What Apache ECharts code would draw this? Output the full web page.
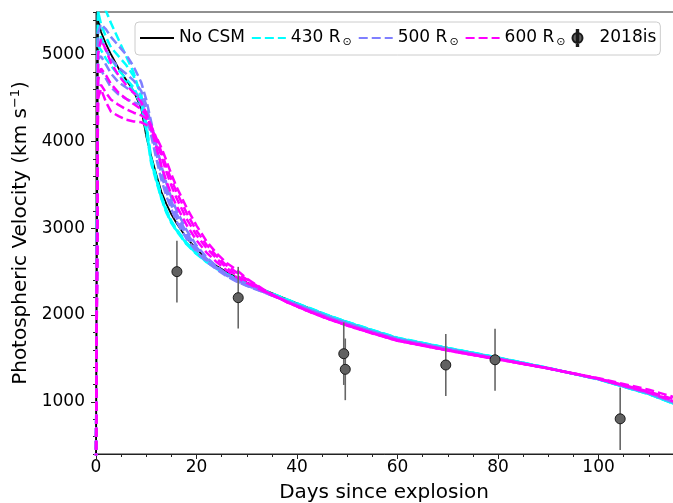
<!DOCTYPE html>
<html>
<head>
<meta charset="utf-8">
<script src="https://cdn.jsdelivr.net/npm/echarts@6/dist/echarts.min.js"></script>
<style>
  html, body { margin: 0; padding: 0; background: #fff; }
  #chart { width: 673px; height: 503px; }
</style>
</head>
<body>
<div id="chart"></div>
<script>
// model grid (days since explosion)
const days = [0, 0.4, 1, 2, 3, 4.5, 6, 7.5, 9, 10, 11, 12, 13, 14, 15, 16, 18, 20, 22, 24, 26, 28, 30, 34, 38, 42, 46, 50, 55, 60, 70, 80, 90, 100, 110, 116];

// no CSM model
const noCsm = [300, 5420, 5260, 5120, 5000, 4840, 4710, 4580, 4380, 4060, 3830, 3620, 3420, 3280, 3160, 3060, 2890, 2760, 2650, 2565, 2495, 2430, 2375, 2275, 2180, 2090, 2000, 1920, 1825, 1735, 1620, 1510, 1390, 1262, 1095, 965];

// 430 Rsun CSM models
const r430a = [300, 5450, 5600, 5500, 5360, 5170, 4980, 4790, 4500, 4200, 3800, 3590, 3375, 3210, 3085, 2990, 2835, 2718, 2622, 2548, 2475, 2420, 2370, 2273, 2180, 2092, 2003, 1922, 1828, 1738, 1622, 1511, 1391, 1262, 1092, 960];
const r430b = [300, 5500, 5350, 5200, 5080, 4980, 4880, 4750, 4540, 4180, 3780, 3570, 3360, 3200, 3075, 2982, 2828, 2712, 2617, 2543, 2470, 2416, 2366, 2270, 2177, 2089, 2000, 1920, 1826, 1736, 1620, 1510, 1390, 1261, 1091, 958];
const r430c = [300, 5300, 5200, 5050, 4950, 4820, 4720, 4620, 4450, 4150, 3760, 3555, 3350, 3190, 3068, 2976, 2822, 2707, 2613, 2539, 2466, 2412, 2362, 2266, 2174, 2086, 1998, 1918, 1824, 1734, 1619, 1509, 1389, 1260, 1090, 957];
const r430d = [300, 5100, 5050, 4950, 4870, 4760, 4680, 4580, 4420, 4120, 3740, 3540, 3340, 3180, 3060, 2970, 2816, 2702, 2609, 2535, 2462, 2408, 2358, 2262, 2170, 2083, 1995, 1915, 1822, 1732, 1617, 1508, 1388, 1259, 1089, 956];

// 500 Rsun CSM models
const r500a = [300, 5250, 5350, 5290, 5200, 5100, 5000, 4860, 4680, 4480, 4220, 3960, 3720, 3520, 3350, 3210, 2980, 2800, 2665, 2560, 2475, 2405, 2350, 2255, 2165, 2075, 1985, 1905, 1812, 1725, 1610, 1502, 1388, 1262, 1098, 970];
const r500b = [300, 5100, 5150, 5050, 4950, 4850, 4780, 4700, 4580, 4420, 4180, 3920, 3680, 3480, 3310, 3170, 2950, 2780, 2650, 2548, 2465, 2398, 2345, 2252, 2162, 2073, 1983, 1903, 1810, 1723, 1608, 1500, 1387, 1262, 1099, 972];
const r500c = [300, 4950, 4980, 4880, 4780, 4680, 4620, 4560, 4500, 4360, 4120, 3860, 3620, 3420, 3260, 3120, 2910, 2750, 2630, 2535, 2455, 2390, 2340, 2250, 2160, 2071, 1981, 1900, 1808, 1721, 1606, 1499, 1386, 1262, 1100, 974];
const r500d = [300, 4800, 4820, 4720, 4620, 4540, 4490, 4450, 4420, 4300, 4060, 3800, 3560, 3370, 3220, 3080, 2880, 2730, 2615, 2525, 2448, 2385, 2336, 2248, 2158, 2069, 1979, 1898, 1806, 1719, 1604, 1498, 1386, 1263, 1101, 976];

// 600 Rsun CSM models
const r600a = [300, 5000, 5180, 5050, 4900, 4760, 4650, 4560, 4450, 4330, 4150, 3930, 3720, 3540, 3390, 3260, 3040, 2860, 2720, 2610, 2515, 2435, 2370, 2255, 2150, 2055, 1965, 1885, 1795, 1710, 1597, 1492, 1385, 1265, 1108, 985];
const r600b = [300, 4700, 4840, 4760, 4660, 4560, 4490, 4430, 4370, 4300, 4180, 4020, 3830, 3650, 3490, 3350, 3110, 2920, 2770, 2650, 2545, 2455, 2385, 2260, 2150, 2052, 1962, 1882, 1792, 1707, 1595, 1491, 1385, 1267, 1112, 992];
const r600c = [300, 4600, 4650, 4560, 4480, 4420, 4370, 4330, 4300, 4260, 4170, 4040, 3880, 3710, 3560, 3420, 3180, 2970, 2810, 2680, 2570, 2490, 2410, 2265, 2150, 2050, 1960, 1880, 1790, 1705, 1593, 1490, 1386, 1270, 1118, 1015];
const r600d = [300, 4500, 4600, 4450, 4340, 4290, 4250, 4230, 4220, 4190, 4130, 4050, 3930, 3780, 3620, 3480, 3240, 3030, 2850, 2710, 2600, 2520, 2420, 2270, 2150, 2048, 1958, 1878, 1788, 1703, 1591, 1489, 1387, 1273, 1140, 1040];

// 2018is photospheric velocities
const obsDays = [16.1, 28.3, 49.3, 49.6, 69.6, 79.4, 104.3];
const obsVel = [2500, 2200, 1555, 1375, 1425, 1485, 805];
const obsErr = [355, 355, 360, 355, 357, 357, 360];

const yMajorTicks = [1000, 2000, 3000, 4000, 5000];

const FONT = 'DejaVu Sans';
const LEG430 = '430 R⊙', LEG500 = '500 R⊙', LEG600 = '600 R⊙';

const myChart = echarts.init(document.getElementById('chart'));

function modelLine(name, vals, color, dashed) {
  return {
    type: 'line',
    name: name,
    data: days.map((d, i) => [d, vals[i]]),
    showSymbol: false,
    symbol: 'none',
    silent: true,
    animation: false,
    lineStyle: {
      color: color,
      width: dashed ? 2.5 : 1.8,
      type: dashed ? [9, 4] : 'solid'
    },
    itemStyle: { color: color }
  };
}

const series = [
  modelLine('No CSM', noCsm, '#000000', false),
  modelLine(LEG430, r430a, '#00ffff', true),
  modelLine(LEG430, r430b, '#00ffff', true),
  modelLine(LEG430, r430c, '#00ffff', true),
  modelLine(LEG430, r430d, '#00ffff', true),
  modelLine(LEG500, r500a, '#7f7fff', true),
  modelLine(LEG500, r500b, '#7f7fff', true),
  modelLine(LEG500, r500c, '#7f7fff', true),
  modelLine(LEG500, r500d, '#7f7fff', true),
  modelLine(LEG600, r600a, '#ff00ff', true),
  modelLine(LEG600, r600b, '#ff00ff', true),
  modelLine(LEG600, r600c, '#ff00ff', true),
  modelLine(LEG600, r600d, '#ff00ff', true),
  {
    // error bars
    type: 'custom',
    name: 'err',
    z: 5,
    animation: false,
    data: obsDays.map((d, i) => [d, obsVel[i], obsErr[i]]),
    renderItem: function (params, api) {
      const lo = api.coord([api.value(0), api.value(1) - api.value(2)]);
      const hi = api.coord([api.value(0), api.value(1) + api.value(2)]);
      return {
        type: 'line',
        shape: { x1: lo[0], y1: lo[1], x2: hi[0], y2: hi[1] },
        style: { stroke: '#666666', lineWidth: 1.6 }
      };
    }
  },
  {
    type: 'scatter',
    name: '2018is',
    z: 6,
    animation: false,
    symbolSize: 10,
    data: obsDays.map((d, i) => [d, obsVel[i]]),
    itemStyle: { color: '#616161', borderColor: '#1a1a1a', borderWidth: 1, opacity: 1 }
  }
];

const noMarker = { opacity: 0 };

const option = {
  backgroundColor: '#ffffff',
  animation: false,
  grid: {
    show: true,
    left: 96,
    top: 12,
    right: -10,
    bottom: 49,
    containLabel: false,
    outerBoundsMode: 'none',
    borderColor: '#222',
    borderWidth: 1,
    backgroundColor: 'transparent'
  },
  legend: {
    left: 135,
    top: 22,
    orient: 'horizontal',
    selectedMode: false,
    itemWidth: 34,
    itemHeight: 16,
    itemGap: 6,
    padding: [7, 4, 7, 4],
    borderColor: '#cccccc',
    borderWidth: 1,
    borderRadius: 4,
    backgroundColor: 'rgba(255,255,255,0.8)',
    textStyle: {
      fontFamily: FONT,
      fontSize: 17,
      color: '#000',
      rich: {
        s: { fontFamily: FONT, fontSize: 11, color: '#000', padding: [9, 0, 0, 2] }
      }
    },
    formatter: function (name) {
      return name.replace('⊙', '{s|⊙}');
    },
    data: [
      { name: 'No CSM', itemStyle: noMarker },
      { name: LEG430, itemStyle: noMarker },
      { name: LEG500, itemStyle: noMarker },
      { name: LEG600, itemStyle: noMarker },
      { name: '2018is', icon: 'path://M4.3,0 h1.4 v16 h-1.4 z M5,3 a5,5 0 1,0 0.001,0 z' }
    ]
  },
  xAxis: {
    type: 'value',
    min: 0,
    max: 116.8,
    interval: 20,
    name: 'Days since explosion',
    nameLocation: 'middle',
    nameGap: 29,
    nameTextStyle: { fontFamily: FONT, fontSize: 20, color: '#000', padding: [0, 11, 0, 0] },
    axisLine: { show: true, lineStyle: { color: '#222', width: 1 } },
    axisTick: { show: true, length: 5, lineStyle: { color: '#222' } },
    minorTick: { show: true, splitNumber: 4, length: 3, lineStyle: { color: '#222' } },
    axisLabel: { fontFamily: FONT, fontSize: 17, color: '#000', margin: 5, showMaxLabel: false },
    splitLine: { show: false }
  },
  yAxis: [
    {
      type: 'value',
      min: 400,
      max: 5490,
      interval: 200,
      name: 'Photospheric Velocity (km s{sup|−1})',
      nameLocation: 'middle',
      nameGap: 55,
      nameTextStyle: {
        fontFamily: FONT,
        fontSize: 20,
        color: '#000',
        rich: { sup: { fontFamily: FONT, fontSize: 13, color: '#000', padding: [0, 0, 10, 0] } }
      },
      axisLine: { show: true, lineStyle: { color: '#222', width: 1 } },
      axisTick: { show: true, length: 3, lineStyle: { color: '#222' } },
      axisLabel: {
        fontFamily: FONT,
        fontSize: 17,
        color: '#000',
        margin: 11,
        formatter: function (v) { return v % 1000 === 0 ? String(v) : ''; }
      },
      splitLine: { show: false }
    },
    {
      // longer ticks at the labelled values
      type: 'value',
      min: 400,
      max: 5490,
      interval: 200,
      position: 'left',
      offset: 0,
      axisLine: { show: false },
      axisTick: { show: true, length: 5, customValues: yMajorTicks, lineStyle: { color: '#222' } },
      axisLabel: { show: false },
      splitLine: { show: false }
    }
  ],
  series: series
};

myChart.setOption(option);
window.addEventListener('resize', function () {
  myChart.resize();
});
</script>
</body>
</html>
